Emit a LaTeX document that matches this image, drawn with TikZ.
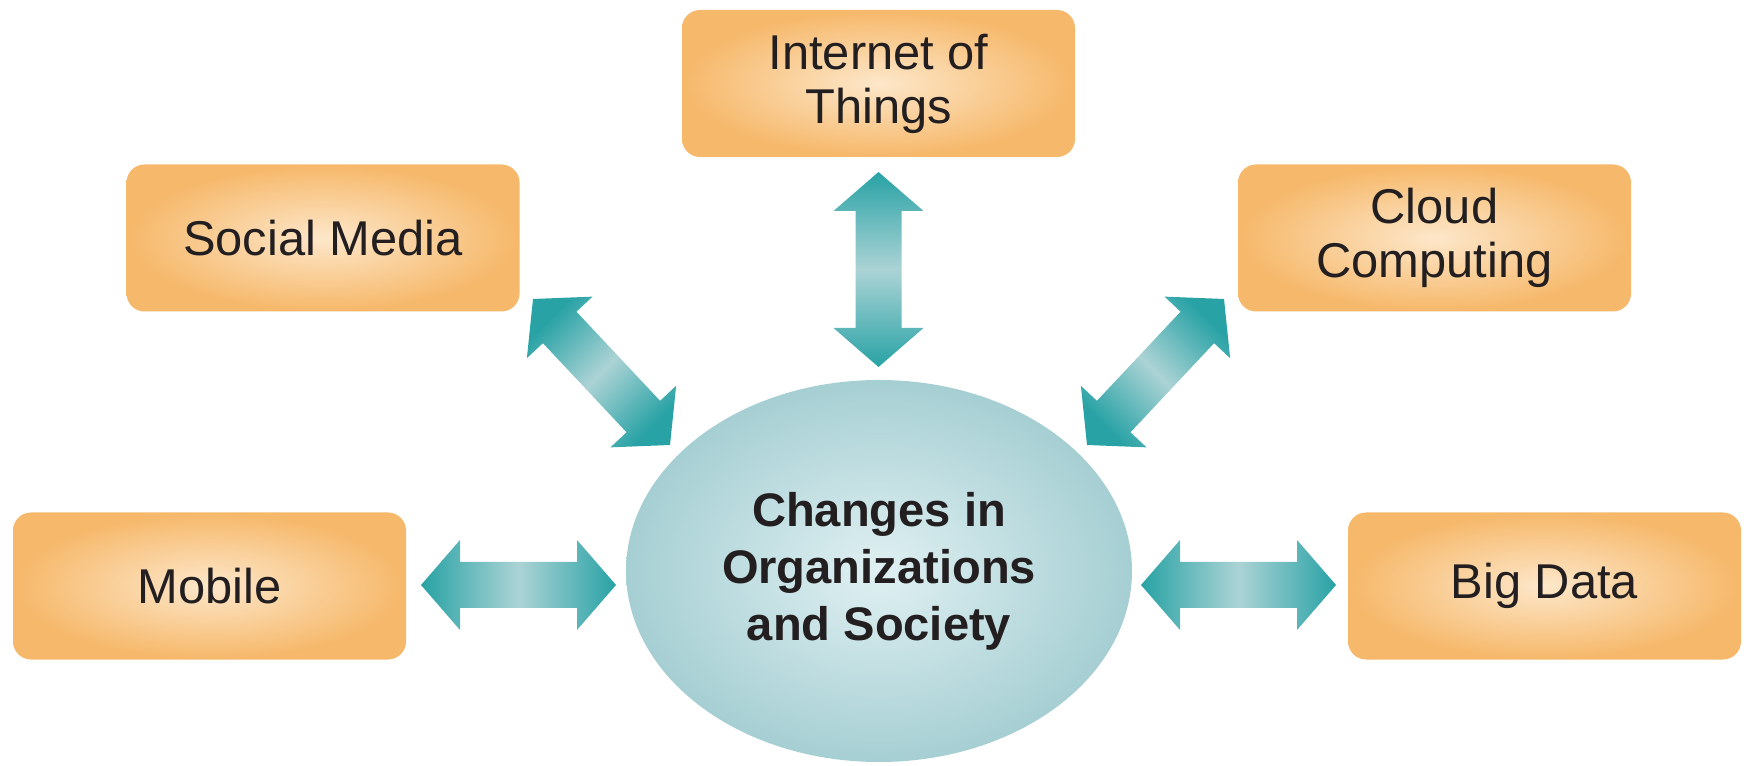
\documentclass[tikz,border=0pt]{standalone}
\usepackage{fontspec}
\setmainfont{Liberation Sans}
\usetikzlibrary{calc,shapes.geometric}

\definecolor{boxout}{RGB}{246,184,106}
\definecolor{boxin}{RGB}{253,231,202}
\definecolor{coreout}{RGB}{166,207,211}
\definecolor{corein}{RGB}{224,240,242}
\definecolor{arrowdark}{RGB}{40,162,165}
\definecolor{arrowlight}{RGB}{172,211,213}
\definecolor{textdark}{RGB}{35,31,32}

% block double arrow between two named coordinates
\newcommand{\dblarrow}[3]{%
  \shade[#1] (#2)
    -- ($(#2)!0.39cm!(#3)!0.45cm!90:(#3)$)
    -- ($(#2)!0.39cm!(#3)!0.23cm!90:(#3)$)
    -- ($(#3)!0.39cm!(#2)!0.23cm!-90:(#2)$)
    -- ($(#3)!0.39cm!(#2)!0.45cm!-90:(#2)$)
    -- (#3)
    -- ($(#3)!0.39cm!(#2)!0.45cm!90:(#2)$)
    -- ($(#3)!0.39cm!(#2)!0.23cm!90:(#2)$)
    -- ($(#2)!0.39cm!(#3)!0.23cm!-90:(#3)$)
    -- ($(#2)!0.39cm!(#3)!0.45cm!-90:(#3)$)
    -- cycle;}

\begin{document}
\begin{tikzpicture}[
  box/.style={rounded corners=0.18cm,minimum width=3.93cm,minimum height=1.47cm,
    inner color=boxin,outer color=boxout,align=center,text=textdark,
    font=\fontsize{13.9}{15.4}\selectfont},
  core/.style={ellipse,minimum width=5.06cm,minimum height=3.82cm,inner sep=0pt,
    inner color=corein,outer color=coreout,align=center,text=textdark,
    font=\bfseries\fontsize{13.4}{16.2}\selectfont},
  harrow/.style={left color=arrowdark,right color=arrowdark,middle color=arrowlight},
  varrow/.style={top color=arrowdark,bottom color=arrowdark,middle color=arrowlight},
  darrow/.style={harrow,shading angle=#1}]
  \useasboundingbox (0,0) rectangle (17.5,7.65);

  \draw(8.79,1.94) node[core] (core) {Changes in\\Organizations\\and Society};
  \draw(8.785,6.815) node[box] (iot) {Internet of\\Things};
  \draw(3.23,5.27) node[box] (social) {Social Media};
  \draw(14.345,5.27) node[box] (cloud) {Cloud\\Computing};
  \draw(2.095,1.79) node[box] (mobile) {Mobile};
  \draw(15.445,1.79) node[box] (bigdata) {Big Data};

  % arrow ends
  \coordinate (iot-a) at (8.785,5.93);
  \coordinate (iot-b) at (8.785,3.98);
  \coordinate (social-a) at (5.33,4.66);
  \coordinate (social-b) at (6.70,3.20);
  \coordinate (cloud-a) at (12.24,4.66);
  \coordinate (cloud-b) at (10.87,3.20);
  \coordinate (mobile-a) at (4.21,1.80);
  \coordinate (mobile-b) at (6.16,1.80);
  \coordinate (bigdata-a) at (13.36,1.80);
  \coordinate (bigdata-b) at (11.41,1.80);

  \dblarrow{varrow}{iot-a}{iot-b}
  \dblarrow{darrow=45}{social-a}{social-b}
  \dblarrow{darrow=-45}{cloud-a}{cloud-b}
  \dblarrow{harrow}{mobile-a}{mobile-b}
  \dblarrow{harrow}{bigdata-a}{bigdata-b}
\end{tikzpicture}
\end{document}
